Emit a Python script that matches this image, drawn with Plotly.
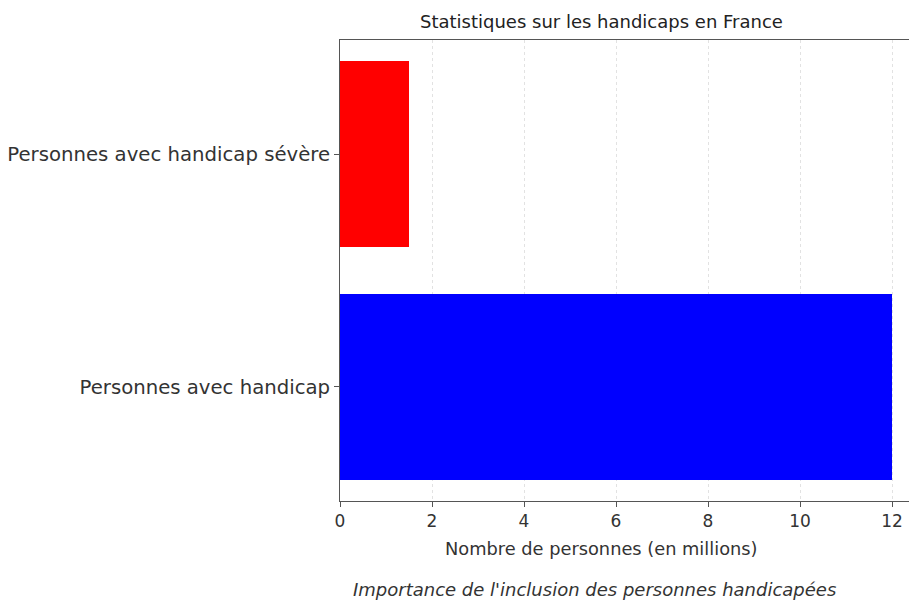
import plotly.graph_objects as go

categories = ["Personnes avec handicap", "Personnes avec handicap sévère"]
values = [12.0, 1.5]
colors = ["#0000ff", "#ff0000"]
x_ticks = [0, 2, 4, 6, 8, 10, 12]

title_text = "Statistiques sur les handicaps en France"
x_title = "Nombre de personnes (en millions)"
caption = "Importance de l'inclusion des personnes handicapées"

FONT = "DejaVu Sans"
TXT = "#333333"

fig = go.Figure(go.Bar(
    y=[0, 1], x=values, orientation="h",
    marker=dict(color=colors, line=dict(width=0)),
    width=0.8,
))

L, T, B = 340, 40, 100
W, H = 909, 601
pw = W - L
ph = H - T - B

fig.update_layout(
    width=W, height=H,
    margin=dict(l=L, r=0, t=T, b=B, pad=0),
    plot_bgcolor="white", paper_bgcolor="white",
    showlegend=False,
    font=dict(family=FONT, color=TXT, size=15),
    bargap=0,
)
fig.update_xaxes(
    range=[0, pw / 46.0], tickvals=x_ticks, ticktext=[str(t) for t in x_ticks],
    showgrid=True, gridcolor="#e2e2e2", griddash="dot", gridwidth=1,
    showline=True, linecolor="#555555", linewidth=1, mirror=True,
    ticks="outside", ticklen=5, tickcolor="#555555",
    tickfont=dict(size=17, family=FONT, color=TXT),
    zeroline=False,
)
fig.update_yaxes(
    range=[-0.49, 1.49], tickvals=[0, 1], ticktext=categories,
    showgrid=False,
    showline=True, linecolor="#555555", linewidth=1,
    ticks="outside", ticklen=5, tickcolor="#555555",
    tickfont=dict(size=19.7, family=FONT, color=TXT),
    zeroline=False,
)

cx = (601 - L) / pw
fig.add_annotation(text=title_text, xref="paper", yref="paper",
                   x=cx, y=1 + 19 / ph, xanchor="center", yanchor="middle",
                   showarrow=False, font=dict(size=18, family=FONT, color="#222222"))
fig.add_annotation(text=x_title, xref="paper", yref="paper",
                   x=cx, y=-(548 - (T + ph)) / ph, xanchor="center", yanchor="middle",
                   showarrow=False, font=dict(size=17.8, family=FONT, color=TXT))
fig.add_annotation(text="<i>" + caption + "</i>", xref="paper", yref="paper",
                   x=(594 - L) / pw, y=-(589 - (T + ph)) / ph, xanchor="center", yanchor="middle",
                   showarrow=False, font=dict(size=18, family=FONT, color=TXT))

fig.write_html("out.html", config={"displayModeBar": False},
               post_script="document.body.style.margin='0';")
